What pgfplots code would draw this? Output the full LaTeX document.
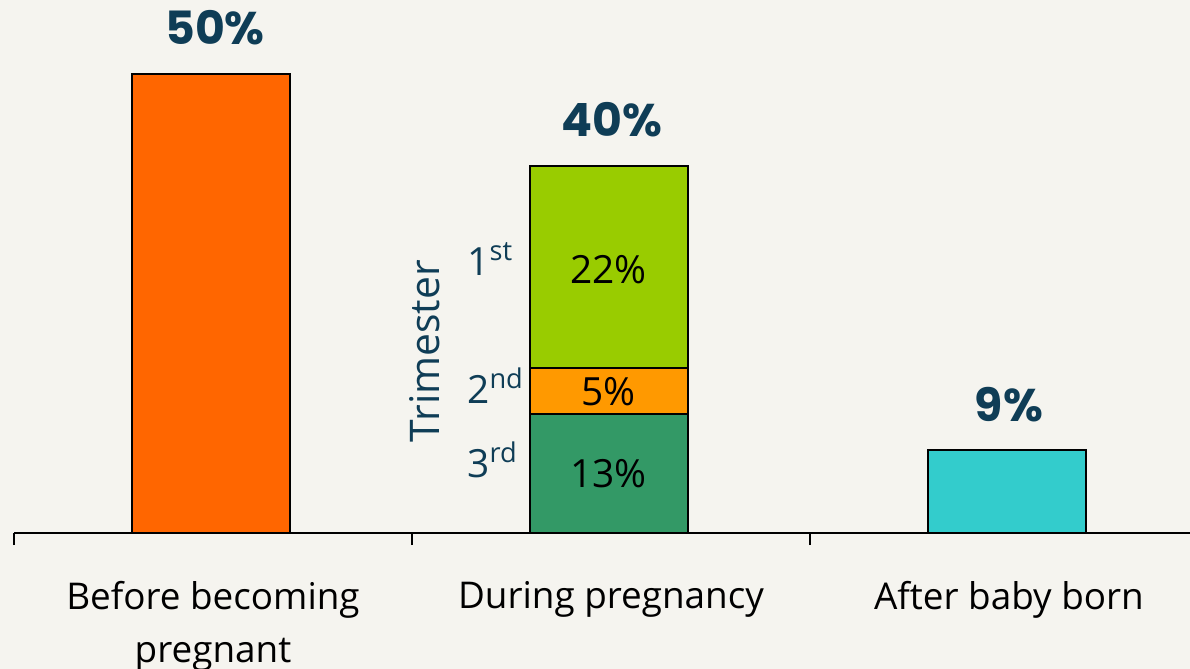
\documentclass[border=0pt]{standalone}
\usepackage{fontspec}
\setmainfont{Open Sans}
\newfontfamily\boldfont{Poppins}
\usepackage{pgfplots}
\pgfplotsset{compat=1.18}
\definecolor{bg}{HTML}{F5F4EF}
\definecolor{navy}{HTML}{0F3D56}
\definecolor{c1}{HTML}{FF6600}
\definecolor{c3rd}{HTML}{339966}
\definecolor{c2nd}{HTML}{FF9900}
\definecolor{c1st}{HTML}{99CC00}
\definecolor{c5}{HTML}{33CCCC}
\tikzset{
  toplab/.style={text=navy, font=\boldfont\bfseries\fontsize{23}{27}\selectfont, anchor=base, yshift=14.5bp, inner sep=0pt},
  inlab/.style={text=black, font=\fontsize{19.5}{24}\selectfont, anchor=base, inner sep=0pt},
  trilab/.style={text=navy, font=\fontsize{19.5}{24}\selectfont, anchor=base west, inner sep=0pt},
}
\begin{document}
\begin{tikzpicture}
\fill[bg] (-7bp,-68bp) rectangle (588bp,266.5bp);
\useasboundingbox (-7bp,-68bp) rectangle (588bp,266.5bp);
\begin{axis}[
  scale only axis,
  width=588bp, height=266.5bp,
  xmin=-0.5, xmax=2.4548,
  ymin=0, ymax=58.06,
  clip=false,
  ybar stacked,
  bar width=79bp,
  bar shift=-1.2bp,
  axis x line*=bottom,
  axis y line=none,
  x axis line style={line width=1bp, -},
  xtick={0,1,2},
  xticklabels={{Before becoming\\pregnant},{During pregnancy},{After baby born}},
  major tick length=0pt,
  minor xtick={-0.5,0.5,1.5},
  minor tick length=6bp,
  minor x tick style={line width=0.8bp, black},
  tick align=outside,
  xticklabel style={align=center, anchor=north, inner sep=0pt, yshift=-24bp, font=\fontsize{18.5}{26.5}\selectfont, text=black},
]
\addplot[fill=c1, draw=black, line width=1bp] coordinates {(0,50) (1,0) (2,0)};
\addplot[fill=c3rd, draw=black, line width=1bp] coordinates {(0,0) (1,13) (2,0)};
\addplot[fill=c2nd, draw=black, line width=1bp] coordinates {(0,0) (1,5) (2,0)};
\addplot[fill=c1st, draw=black, line width=1bp] coordinates {(0,0) (1,22) (2,0)};
\addplot[fill=c5, draw=black, line width=1bp] coordinates {(0,0) (1,0) (2,9)};

\coordinate (t0) at (axis cs:0,50);
\coordinate (t1) at (axis cs:1,40);
\coordinate (t2) at (axis cs:2,9);
\coordinate (i1) at (axis cs:1,27.2);
\coordinate (i2) at (axis cs:1,13.9);
\coordinate (i3) at (axis cs:1,5.0);
\coordinate (r1) at (axis cs:0.638,28.1);
\coordinate (r2) at (axis cs:0.638,14.16);
\coordinate (r3) at (axis cs:0.638,6.1);
\coordinate (tri) at (axis cs:0.570,19.8);
\end{axis}
\node[toplab] at ([xshift=1bp]t0) {50\%};
\node[toplab] at ([xshift=0.5bp]t1) {40\%};
\node[toplab] at ([xshift=0bp]t2) {9\%};
\node[inlab] at ([xshift=-1.2bp]i1) {22\%};
\node[inlab] at ([xshift=-1.2bp]i2) {5\%};
\node[inlab] at ([xshift=-1.2bp]i3) {13\%};
\node[trilab] at (r1) {1\textsuperscript{st}};
\node[trilab] at (r2) {2\textsuperscript{nd}};
\node[trilab] at (r3) {3\textsuperscript{rd}};
\node[text=navy, font=\fontsize{20.5}{26}\selectfont, rotate=90, anchor=base, inner sep=0pt] at (tri) {Trimester};
\end{tikzpicture}
\end{document}
